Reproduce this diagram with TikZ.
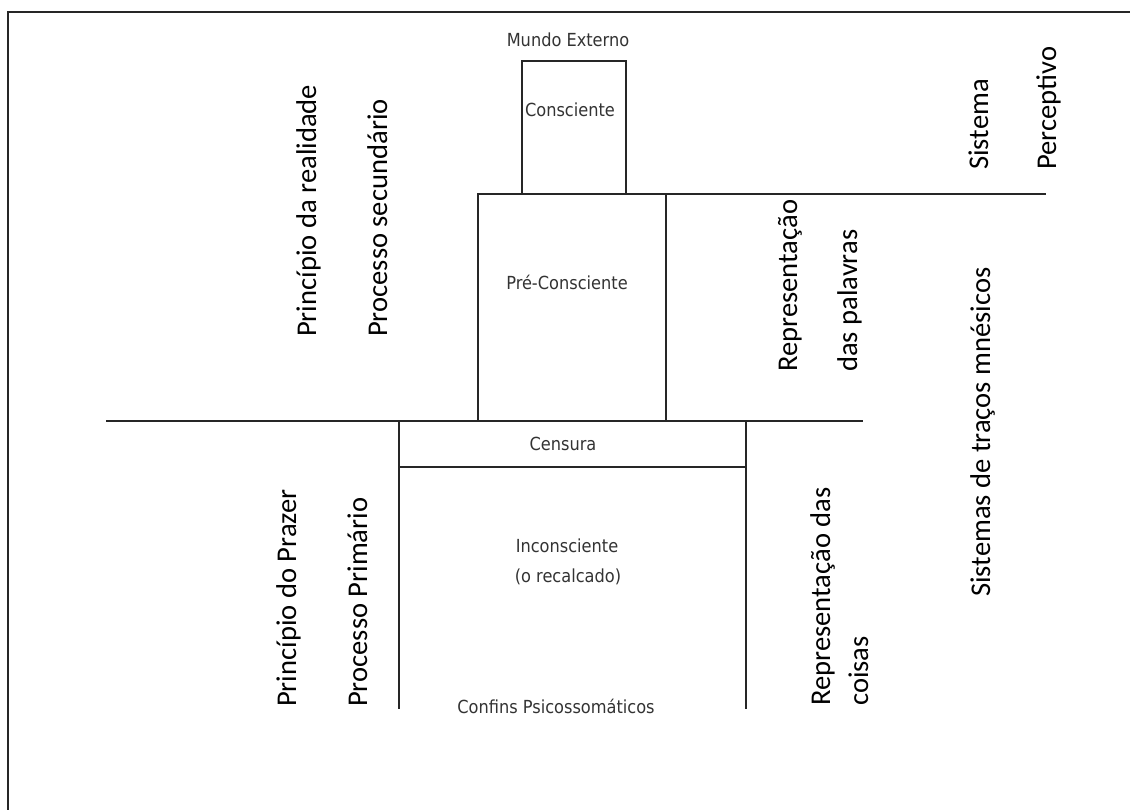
\documentclass[tikz,border=0pt]{standalone}
\usepackage{fontspec}
\setmainfont{Carlito}
\newfontfamily\boxfont{DejaVu Sans Condensed}
\begin{document}
\begin{tikzpicture}[x=1pt,y=-1pt,
  ln/.style={line width=1.3pt,black!85},
  boxtxt/.style={font=\boxfont\fontsize{18}{21}\selectfont,text=black!80,inner sep=0pt},
  side/.style={font=\fontsize{28.6}{34}\selectfont,rotate=90,anchor=base west,inner sep=0pt}]
\useasboundingbox (0,0) rectangle (1130,810);
% outer frame (open at right and bottom)
\draw[ln] (8,830) -- (8,12) -- (1150,12);
% coordinates
\coordinate (cTL) at (522,61);
\coordinate (cBR) at (626,194);
\coordinate (pTL) at (478,194);
\coordinate (pBR) at (666,421);
\coordinate (sTL) at (399,421);
\coordinate (sBR) at (746,467);
\coordinate (iBL) at (399,709);
\coordinate (iBR) at (746,709);
\coordinate (topR) at (1046,194);
\coordinate (midL) at (106,421);
\coordinate (midR) at (863,421);
% boxes
\draw[ln] (cTL) rectangle (cBR);
\draw[ln] (pTL) rectangle (pBR);
\draw[ln] (pBR |- topR) -- (topR);
\draw[ln] (midL) -- (midR);
\draw[ln] (sTL) rectangle (sBR);
\draw[ln] (sTL |- sBR) -- (iBL);
\draw[ln] (sBR) -- (iBR);
% box texts
\node[boxtxt] (mundo) at (568,40) {Mundo Externo};
\node[boxtxt] (consc) at (570,110) {Consciente};
\node[boxtxt] (precon) at (567,282) {Pré-Consciente};
\node[boxtxt] (censura) at (563,444) {Censura};
\node[boxtxt] (incon) at (567,546) {Inconsciente};
\node[boxtxt] (recalc) at (568,577) {(o recalcado)};
\node[boxtxt] (confins) at (556,706) {Confins Psicossomáticos};
% side labels
\node[side] (prreal) at (316,337) {Princípio da realidade};
\node[side] (prsec) at (387,337) {Processo secundário};
\node[side] (sist) at (988,170) {Sistema};
\node[side] (perc) at (1056,170) {Perceptivo};
\node[side] (reppal1) at (797,372) {Representação};
\node[side] (reppal2) at (857,372) {das palavras};
\node[side] (sistm) at (990,597) {Sistemas de traços mnésicos};
\node[side] (prpraz) at (296,707) {Princípio do Prazer};
\node[side] (prprim) at (367,707) {Processo Primário};
\node[side] (repcoi1) at (830,706) {Representação das};
\node[side] (repcoi2) at (868,706) {coisas};
\end{tikzpicture}
\end{document}
